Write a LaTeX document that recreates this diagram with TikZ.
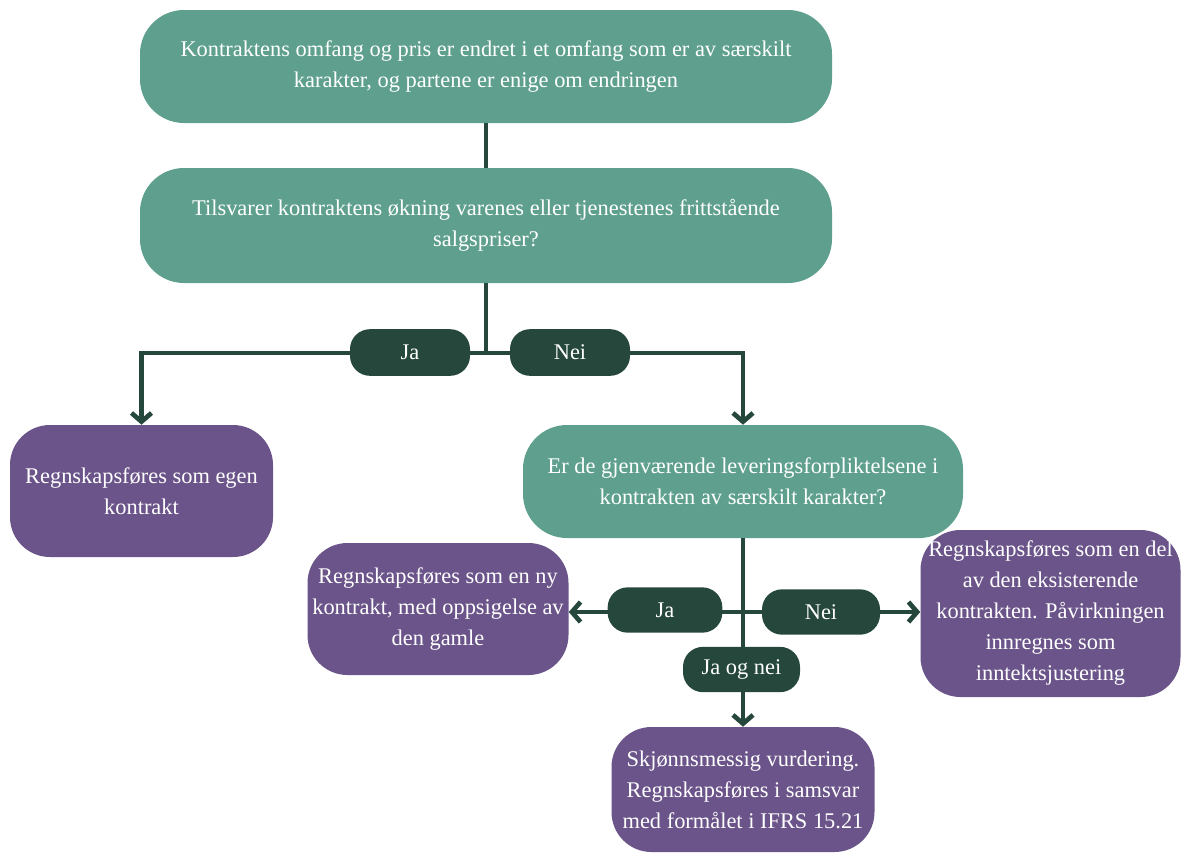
\documentclass[tikz,border=0pt]{standalone}
\usepackage{fontspec}
\setmainfont{Liberation Serif}
\usetikzlibrary{arrows.meta}
\definecolor{tealbox}{RGB}{94,160,141}
\definecolor{purpbox}{RGB}{106,84,137}
\definecolor{darkg}{RGB}{38,72,60}
\begin{document}
\begin{tikzpicture}[x=0.75pt,y=-0.75pt,
  basebox/.style={rounded corners=30pt, text=white, align=center, inner sep=0pt,
    font=\fontsize{16.8pt}{23.25pt}\selectfont},
  qbox/.style={basebox, fill=tealbox, rounded corners=33pt},
  rbox/.style={basebox, fill=purpbox},
  pill/.style={basebox, fill=darkg, rounded corners=15pt},
  conn/.style={draw=darkg, line width=3.5pt},
  arr/.style={conn, -{Straight Barb[length=6.5pt,width=15pt]}}]
\useasboundingbox (0,0) rectangle (1181,854);
% main nodes
\node[qbox, minimum width=519pt, minimum height=84.75pt] (top) at (486,66.5)
  {Kontraktens omfang og pris er endret i et omfang som er av særskilt\\karakter, og partene er enige om endringen};
\node[qbox, minimum width=519pt, minimum height=86.25pt] (q2) at (486,225.5)
  {Tilsvarer kontraktens økning varenes eller tjenestenes frittstående\\salgspriser?};
\node[rbox, minimum width=197.25pt, minimum height=99pt] (egen) at (141.5,491)
  {Regnskapsføres som egen\\kontrakt};
\node[qbox, minimum width=330pt, minimum height=84.75pt] (q3) at (743,481.5)
  {Er de gjenværende leveringsforpliktelsene i\\kontrakten av særskilt karakter?};
\node[rbox, minimum width=195.75pt, minimum height=99pt] (nyk) at (438,609)
  {Regnskapsføres som en ny\\kontrakt, med oppsigelse av\\den gamle};
\node[rbox, minimum width=195pt, minimum height=125.25pt] (del) at (1050.5,613.5)
  {Regnskapsføres som en del\\av den eksisterende\\kontrakten. Påvirkningen\\innregnes som\\inntektsjustering};
\node[rbox, minimum width=197.25pt, minimum height=93.75pt] (skj) at (743,789.5)
  {Skjønnsmessig vurdering.\\Regnskapsføres i samsvar\\med formålet i IFRS 15.21};
\coordinate (j1) at (486,353);
\coordinate (j2) at (743,612);
% connectors
\draw[conn] (top.south) -- (q2.north);
\draw[conn] (q2.south) -- (j1);
\draw[arr] (j1) -| (egen.north);
\draw[arr] (j1) -| (q3.north);
\draw[arr] (q3.south) -- (skj.north);
\draw[arr] (j2) -- (j2 -| nyk.east);
\draw[arr] (j2) -- (j2 -| del.west);
% labels
\node[pill, minimum width=90pt, minimum height=35pt] (ja1) at (410,352.5) {Ja};
\node[pill, minimum width=90pt, minimum height=35pt] (nei1) at (570,352.5) {Nei};
\node[pill, minimum width=86pt, minimum height=34pt] (ja2) at (665,610) {Ja};
\node[pill, minimum width=88.5pt, minimum height=34pt] (nei2) at (821,612) {Nei};
\node[pill, minimum width=87.75pt, minimum height=34pt] (jon) at (741.5,669.5) {Ja og nei};
\end{tikzpicture}
\end{document}
